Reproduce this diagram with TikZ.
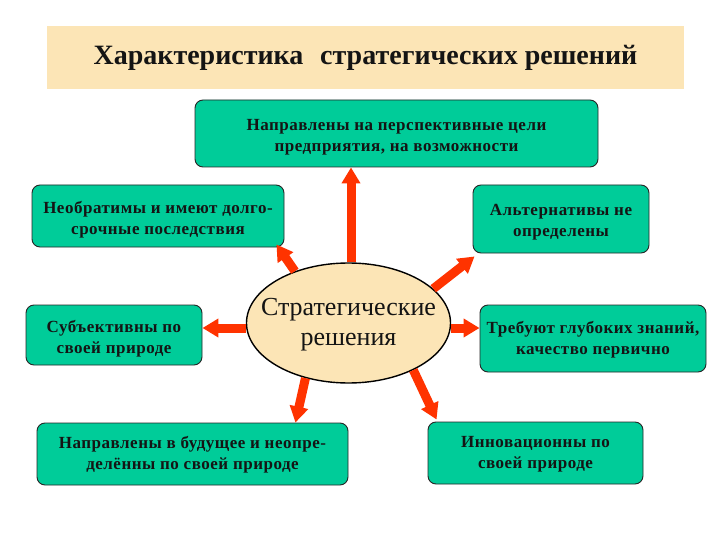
\documentclass[tikz,border=0pt]{standalone}
\usepackage{fontspec}
\setmainfont{Liberation Serif}
\newfontfamily\boxfont[LetterSpace=3]{Liberation Serif}
\usetikzlibrary{arrows.meta,shapes.geometric}
\definecolor{teal1}{RGB}{0,204,153}
\definecolor{tan1}{RGB}{252,229,182}
\definecolor{arrred}{RGB}{255,51,0}
\definecolor{txt}{RGB}{20,20,20}
\tikzset{
  box/.style={draw=black!85, line width=0.9pt, fill=teal1, rounded corners=8pt,
    inner sep=0pt},
  boxtext/.style={align=center, inner sep=0pt, text=txt,
    font=\boxfont\fontsize{17}{21}\selectfont\bfseries},
  arr/.style={draw=arrred, line width=9pt, -{Triangle[width=18pt,length=16pt]}},
}
\begin{document}
\begin{tikzpicture}[x=1pt,y=-1pt]
\useasboundingbox[fill=white] (0,0) rectangle (720,540);
% title
\node[fill=tan1, minimum width=637pt, minimum height=63pt, inner sep=0pt,
      font=\fontsize{28}{32}\selectfont\bfseries, text=txt] (title) at (365.5,57.5)
  {Характеристика\hspace{0.6em}стратегических решений};
% boxes
\node[box, minimum width=403pt, minimum height=67pt] (top) at (396.5,133.5) {};
\node[boxtext] (topt) at ([yshift=-3.5pt]top.center)
  {Направлены на перспективные цели\\предприятия, на возможности};
\node[box, minimum width=252pt, minimum height=62pt] (ul) at (158,216) {};
\node[boxtext] (ult) at ([yshift=-3.5pt]ul.center)
  {Необратимы и имеют долго-\\срочные последствия};
\node[box, minimum width=176pt, minimum height=68pt] (ur) at (561,219) {};
\node[boxtext] (urt) at ([yshift=-3.5pt]ur.center)
  {Альтернативы не\\определены};
\node[box, minimum width=176pt, minimum height=60pt] (ml) at (114,335) {};
\node[boxtext] (mlt) at ([yshift=-3.5pt]ml.center)
  {Субъективны по\\своей природе};
\node[box, minimum width=226pt, minimum height=67pt] (mr) at (593,338.5) {};
\node[boxtext] (mrt) at ([yshift=-1pt]mr.center)
  {Требуют глубоких знаний,\\качество первично};
\node[box, minimum width=311pt, minimum height=62pt] (bl) at (192.5,454) {};
\node[boxtext] (blt) at ([yshift=-1pt]bl.center)
  {Направлены в будущее и неопре-\\делённы по своей природе};
\node[box, minimum width=215pt, minimum height=62pt] (br) at (535.5,453) {};
\node[boxtext] (brt) at ([yshift=-1pt]br.center)
  {Инновационны по\\своей природе};
% ellipse
\node[ellipse, draw=black, line width=1.4pt, fill=tan1, minimum width=204pt,
      minimum height=120pt, inner sep=0pt] (ell) at (348.5,323) {};
\node[align=center, text=txt, inner sep=0pt,
      font=\fontsize{26}{30}\selectfont] (ellt) at ([yshift=-2pt]ell.center)
  {Стратегические\\решения};
% arrows
\coordinate (tUL) at ([xshift=-8pt,yshift=3pt]ul.south east);
\coordinate (tUR) at ([xshift=2pt,yshift=-3pt]ur.south west);
\coordinate (tDL) at ([xshift=-53pt]bl.north east);
\coordinate (tDR) at ([xshift=9pt,yshift=2pt]br.north west);
\draw[arr] ([xshift=2.5pt]ell.north) -- ([xshift=2.5pt]ell.north |- top.south);
\draw[arr] (ell.136) -- (tUL);
\draw[arr] (ell.22) -- (tUR);
\draw[arr] ([yshift=-5pt]ell.west) -- ([yshift=-5pt]ell.west -| ml.east);
\draw[arr] ([yshift=-5pt]ell.east) -- ([yshift=-5pt]ell.east -| mr.west);
\draw[arr] (ell.232) -- (tDL);
\draw[arr] (ell.324) -- (tDR);
\end{tikzpicture}
\end{document}
